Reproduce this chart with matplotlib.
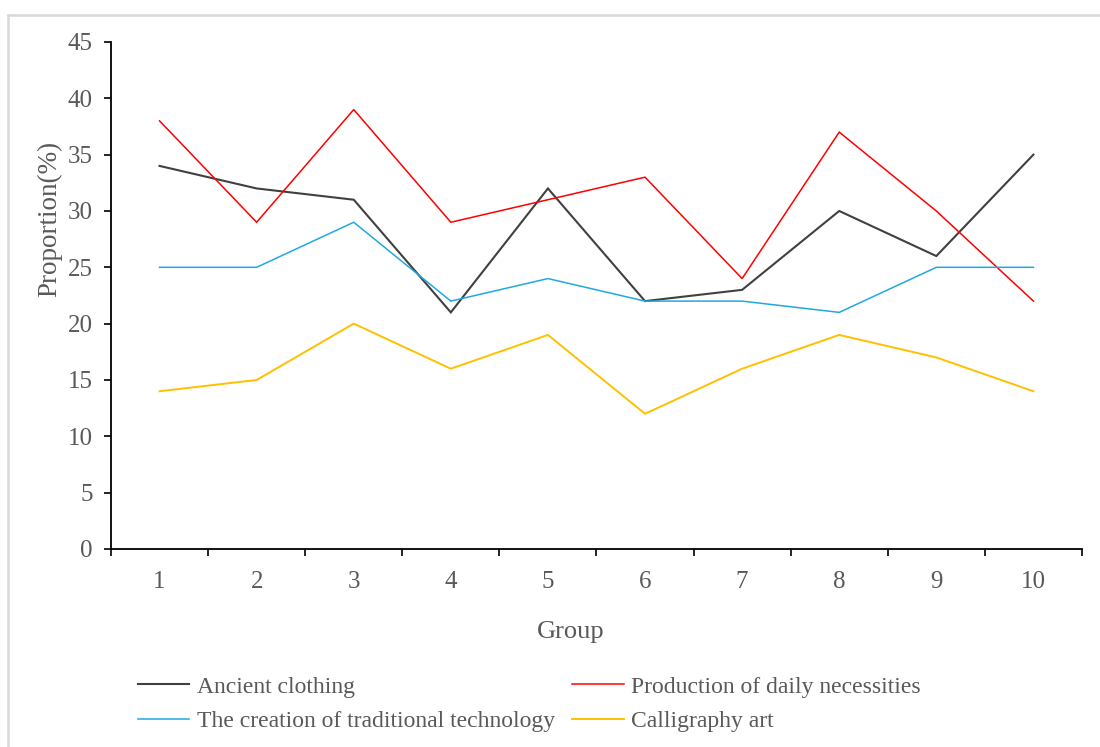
import matplotlib
matplotlib.use("Agg")
import matplotlib.pyplot as plt
from matplotlib.lines import Line2D

plt.rcParams['font.family'] = ['Liberation Serif', 'DejaVu Serif']

groups = [1, 2, 3, 4, 5, 6, 7, 8, 9, 10]
ancient_clothing = [34, 32, 31, 21, 32, 22, 23, 30, 26, 35]
daily_necessities = [38, 29, 39, 29, 31, 33, 24, 37, 30, 22]
traditional_technology = [25, 25, 29, 22, 24, 22, 22, 21, 25, 25]
calligraphy_art = [14, 15, 20, 16, 19, 12, 16, 19, 17, 14]

series_names = ["Ancient clothing", "Production of daily necessities",
                "The creation of traditional technology", "Calligraphy art"]
series_colors = ["#404040", "#ff0000", "#1fa9e1", "#ffc000"]
series_widths = [1.5, 1.1, 1.1, 1.4]
y_ticks = [0, 5, 10, 15, 20, 25, 30, 35, 40, 45]

fig = plt.figure(figsize=(11, 7.47), dpi=100)
ax = fig.add_axes([0.1009, 0.2651, 0.8827, 0.6787])

text_color = "#595959"
for vals, name, col, lw in zip(
        [ancient_clothing, daily_necessities, traditional_technology, calligraphy_art],
        series_names, series_colors, series_widths):
    ax.plot(groups, vals, color=col, lw=lw, label=name, solid_joinstyle='miter')

ax.set_xlim(0.5, 10.5)
ax.set_ylim(0, 45)
ax.set_yticks(y_ticks)
ax.set_xticks(groups)
ax.set_xticks([g + 0.5 for g in [0] + groups], minor=True)
ax.tick_params(axis='x', which='major', length=0, pad=16, labelsize=18, labelcolor=text_color)
ax.tick_params(axis='x', which='minor', length=5, width=1.2, direction='out', color='black')
ax.tick_params(axis='y', which='major', length=5, width=1.2, direction='out',
               labelsize=18, labelcolor=text_color, pad=8)

for side in ['top', 'right']:
    ax.spines[side].set_visible(False)
for side in ['left', 'bottom']:
    ax.spines[side].set_linewidth(1.3)
    ax.spines[side].set_color('black')

ax.set_xlabel("Group", fontsize=19, color=text_color)
ax.set_ylabel("Proportion(%)", fontsize=19.5, color=text_color)
ax.xaxis.set_label_coords(0.473, -0.142)
ax.yaxis.set_label_coords(-0.0628, 0.650)
ax.yaxis.label.set_va('center')

# legend filled row by row: two entries per row
order = [0, 2, 1, 3]
handles = [Line2D([], [], color=series_colors[i], lw=series_widths[i]) for i in order]
labels = [series_names[i] for i in order]
leg = fig.legend(handles, labels, loc='upper left', bbox_to_anchor=(0.125, 0.095),
                 ncol=2, frameon=False, fontsize=17, handlelength=2.2, handletextpad=0.3,
                 columnspacing=0.75, labelspacing=0.55, borderaxespad=0, borderpad=0)
for t in leg.get_texts():
    t.set_color(text_color)

# light frame along the top and left edges
fig.add_artist(Line2D([8 / 1100, 1.0], [1 - 15 / 747, 1 - 15 / 747],
                      transform=fig.transFigure, color="#d9d9d9", lw=1.8))
fig.add_artist(Line2D([8 / 1100, 8 / 1100], [0, 1 - 15 / 747],
                      transform=fig.transFigure, color="#d9d9d9", lw=1.8))

fig.savefig("out.png", dpi=100)
